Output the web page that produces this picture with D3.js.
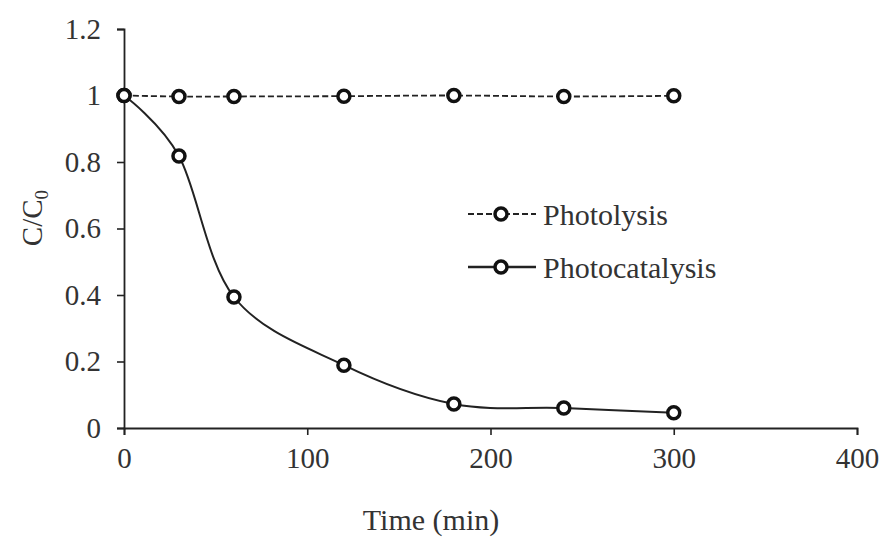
<!DOCTYPE html>
<html><head><meta charset="utf-8">
<script src="https://cdn.jsdelivr.net/npm/d3@7"></script>
<style>body{margin:0;background:#fff;} svg{display:block;} text{font-family:"Liberation Serif","Times New Roman",serif;fill:#333;}</style>
</head><body>
<svg id="c" width="883" height="537"></svg>
<script>
const times = [0, 30, 60, 120, 180, 240, 300];
const photolysis = [1.0, 0.997, 0.997, 0.998, 1.0, 0.997, 0.999];
const photocatalysis = [1.0, 0.818, 0.394, 0.189, 0.072, 0.060, 0.046];
const xTicks = [0, 100, 200, 300, 400];
const yTicks = [0, 0.2, 0.4, 0.6, 0.8, 1, 1.2];
const seriesNames = ["Photolysis", "Photocatalysis"];

const svg = d3.select("#c");
const m = {l:124, r:26, t:29, b:109};
const W = 883, H = 537;
const x = d3.scaleLinear().domain([0,400]).range([m.l, W-m.r]);
const y = d3.scaleLinear().domain([0,1.2]).range([H-m.b, m.t]);

const fmt = d => String(d);
const gx = svg.append("g").attr("transform",`translate(0,${y(0)})`)
  .call(d3.axisBottom(x).tickValues(xTicks).tickFormat(fmt).tickSizeOuter(0).tickSize(7).tickPadding(12));
const gy = svg.append("g").attr("transform",`translate(${x(0)},0)`)
  .call(d3.axisLeft(y).tickValues(yTicks).tickFormat(fmt).tickSizeOuter(0).tickSize(7).tickPadding(16));
[gx,gy].forEach(g=>{
  g.select(".domain").attr("stroke","#222").attr("stroke-width",1.8);
  g.selectAll(".tick line").attr("stroke","#222").attr("stroke-width",1.6);
  g.selectAll(".tick text").attr("font-size",29).attr("fill","#333").attr("font-family","Liberation Serif, serif");
});

const line = d3.line().x((d,i)=>x(times[i])).y(d=>y(d)).curve(d3.curveCardinal.tension(0));
svg.append("path").attr("d",line(photolysis)).attr("fill","none").attr("stroke","#222").attr("stroke-width",1.8).attr("stroke-dasharray","6,3");
svg.append("path").attr("d",line(photocatalysis)).attr("fill","none").attr("stroke","#222").attr("stroke-width",2);

function markers(vals){
  svg.append("g").selectAll("circle").data(vals).join("circle")
    .attr("cx",(d,i)=>x(times[i])).attr("cy",d=>y(d)).attr("r",6)
    .attr("fill","#fff").attr("stroke","#111").attr("stroke-width",3.5);
}
markers(photolysis);
markers(photocatalysis);

// legend
const leg = [{name:seriesNames[0], dash:"6,3", w:1.8, y:214},{name:seriesNames[1], dash:null, w:2.5, y:267}];
leg.forEach(l=>{
  svg.append("line").attr("x1",468).attr("x2",536).attr("y1",l.y).attr("y2",l.y)
    .attr("stroke","#222").attr("stroke-width",l.w).attr("stroke-dasharray",l.dash);
  svg.append("circle").attr("cx",501).attr("cy",l.y).attr("r",6).attr("fill","#fff").attr("stroke","#111").attr("stroke-width",3.5);
  svg.append("text").attr("x",543).attr("y",l.y).attr("dy","0.35em").attr("font-size",30).text(l.name);
});

// axis titles
svg.append("text").attr("x",431).attr("y",530).attr("text-anchor","middle").attr("font-size",30).text("Time (min)");
const yt = svg.append("text").attr("transform","translate(42,218) rotate(-90)").attr("text-anchor","middle").attr("font-size",29);
yt.append("tspan").text("C/C");
yt.append("tspan").attr("font-size",19).attr("dy",6).text("0");
</script>
</body></html>
